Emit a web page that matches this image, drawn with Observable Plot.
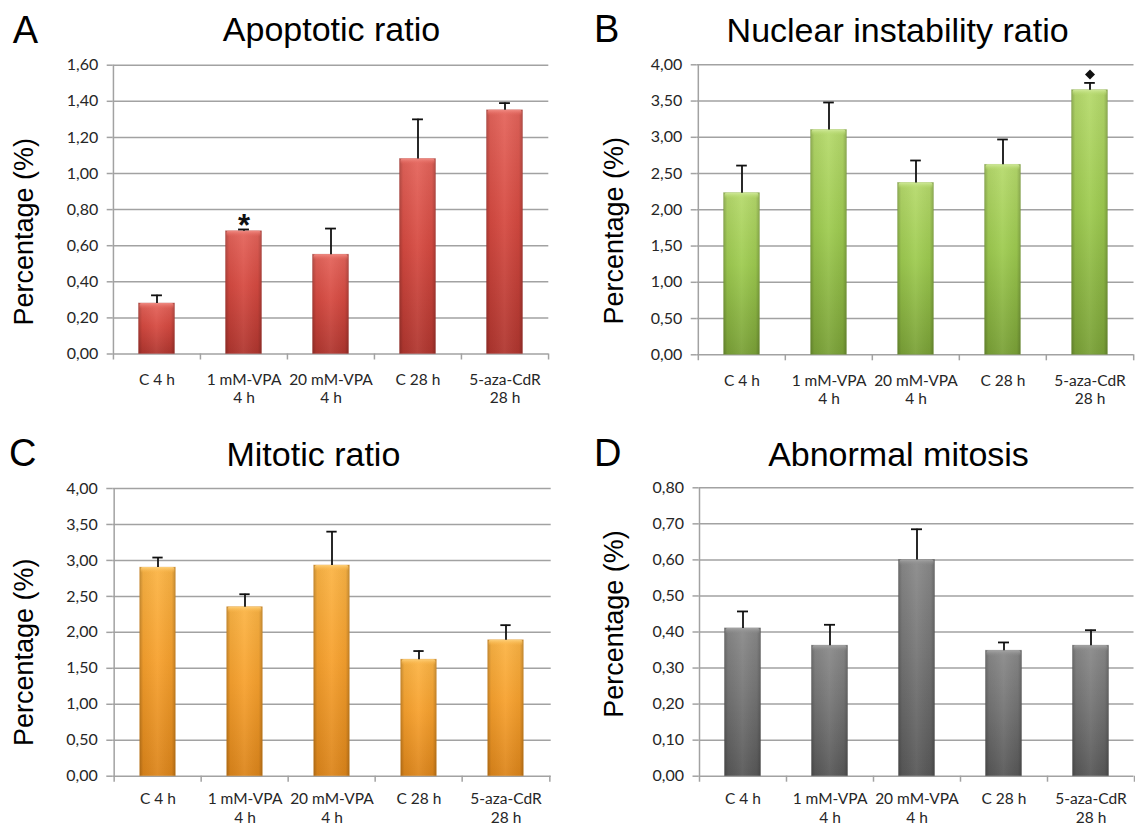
<!DOCTYPE html>
<html><head><meta charset="utf-8">
<script src="https://cdn.jsdelivr.net/npm/d3@7"></script>
<script src="https://cdn.jsdelivr.net/npm/@observablehq/plot@0.6"></script>
<style>
html,body{margin:0;padding:0;background:#fff;}
#wrap{position:relative;width:1135px;height:827px;overflow:hidden;background:#fff;}
#wrap svg{position:absolute;}
</style></head><body><div id="wrap"></div>
<script>
// ---------- data ----------
const categories = ["C 4 h", "1 mM-VPA\n4 h", "20 mM-VPA\n4 h", "C 28 h", "5-aza-CdR\n28 h"];

const apoptoticValues = [0.28, 0.68, 0.55, 1.08, 1.35];
const apoptoticErrors = [0.045, 0.01, 0.145, 0.22, 0.04];
const apoptoticMarks  = ["", "*", "", "", ""];
const apoptoticTicks  = [0, 0.2, 0.4, 0.6, 0.8, 1.0, 1.2, 1.4, 1.6];

const nuclearValues = [2.23, 3.10, 2.37, 2.62, 3.65];
const nuclearErrors = [0.38, 0.38, 0.31, 0.35, 0.10];
const nuclearMarks  = ["", "", "", "", "◆"];
const nuclearTicks  = [0, 0.5, 1.0, 1.5, 2.0, 2.5, 3.0, 3.5, 4.0];

const mitoticValues = [2.90, 2.35, 2.93, 1.62, 1.89];
const mitoticErrors = [0.14, 0.18, 0.47, 0.12, 0.21];
const mitoticMarks  = ["", "", "", "", ""];
const mitoticTicks  = [0, 0.5, 1.0, 1.5, 2.0, 2.5, 3.0, 3.5, 4.0];

const abnormalValues = [0.41, 0.362, 0.60, 0.348, 0.362];
const abnormalErrors = [0.047, 0.058, 0.085, 0.023, 0.043];
const abnormalMarks  = ["", "", "", "", ""];
const abnormalTicks  = [0, 0.1, 0.2, 0.3, 0.4, 0.5, 0.6, 0.7, 0.8];

const panelLetters = ["A", "B", "C", "D"];
const panelTitles = ["Apoptotic ratio", "Nuclear instability ratio", "Mitotic ratio", "Abnormal mitosis"];
const yTitle = "Percentage (%)";

// ---------- styles / layout ----------
const palettes = {
  A: {top: "#e4645b", base: "#d64a41", bottom: "#b0362f", strip: "#f08c84", edge: "#a0322b"},
  B: {top: "#b6da6c", base: "#9ecb50", bottom: "#7aa137", strip: "#d0e99a", edge: "#6f9430"},
  C: {top: "#fbb445", base: "#f7a12e", bottom: "#dc851b", strip: "#fdd07a", edge: "#c97a18"},
  D: {top: "#8a8a8a", base: "#757575", bottom: "#585858", strip: "#a6a6a6", edge: "#4e4e4e"}
};

const layouts = [
  {key: "A", left: 0,   top: 0,   width: 567, height: 414, ml: 112.7, mr: 18.7, mt: 64.7, mb: 60.5, labelDy: 17.5,
   values: apoptoticValues, errors: apoptoticErrors, marks: apoptoticMarks, ticks: apoptoticTicks,
   letter: {x: 12.7, y: 43}, title: {x: 331.5, y: 41}, ytitle: {x: 33, y: 231.7}},
  {key: "B", left: 567, top: 0,   width: 568, height: 414, ml: 129.7, mr: 1.5, mt: 64.3, mb: 59.7, labelDy: 17.5,
   values: nuclearValues, errors: nuclearErrors, marks: nuclearMarks, ticks: nuclearTicks,
   letter: {x: 594, y: 42}, title: {x: 897.6, y: 41.5}, ytitle: {x: 623, y: 230.8}},
  {key: "C", left: 0,   top: 414, width: 567, height: 413, ml: 112.3, mr: 16.3, mt: 74, mb: 51.3, labelDy: 15,
   values: mitoticValues, errors: mitoticErrors, marks: mitoticMarks, ticks: mitoticTicks,
   letter: {x: 9, y: 466}, title: {x: 313.4, y: 466}, ytitle: {x: 33, y: 652.3}},
  {key: "D", left: 567, top: 414, width: 568, height: 413, ml: 131.5, mr: 1.5, mt: 73.3, mb: 51.3, labelDy: 15,
   values: abnormalValues, errors: abnormalErrors, marks: abnormalMarks, ticks: abnormalTicks,
   letter: {x: 594, y: 466}, title: {x: 898.5, y: 466}, ytitle: {x: 623, y: 624}}
];

const gridColor = "#a2a2a2";
const fmt = d => d3.format(".2f")(d).replace(".", ",");
const wrap = document.getElementById("wrap");

function gradientDefs(id, col) {
  return () => {
    const defs = d3.create("svg:defs");
    const v = defs.append("linearGradient").attr("id", id + "-v")
      .attr("x1", 0).attr("y1", 0).attr("x2", 0).attr("y2", 1);
    [[0, col.top], [0.45, col.base], [1, col.bottom]].forEach(([o, c]) =>
      v.append("stop").attr("offset", o).attr("stop-color", c));
    const h = defs.append("linearGradient").attr("id", id + "-h")
      .attr("x1", 0).attr("y1", 0).attr("x2", 1).attr("y2", 0);
    [[0, "#000", 0.22], [0.1, "#000", 0.05], [0.5, "#fff", 0.06], [0.9, "#000", 0.05], [1, "#000", 0.22]].forEach(([o, c, a]) =>
      h.append("stop").attr("offset", o).attr("stop-color", c).attr("stop-opacity", a));
    const s = defs.append("linearGradient").attr("id", id + "-s")
      .attr("x1", 0).attr("y1", 0).attr("x2", 0).attr("y2", 1);
    [[0, col.strip, 1], [1, col.top, 0]].forEach(([o, c, a]) =>
      s.append("stop").attr("offset", o).attr("stop-color", c).attr("stop-opacity", a));
    return defs.node();
  };
}

layouts.forEach(L => {
  const col = palettes[L.key];
  const ymax = L.ticks[L.ticks.length - 1];
  const data = categories.map((c, i) => ({cat: c, v: L.values[i], top: L.values[i] + L.errors[i], mark: L.marks[i]}));
  const step = (L.width - L.ml - L.mr) / categories.length;
  const barInset = step * 0.293;
  const capInset = (step - 11) / 2;
  const chart = Plot.plot({
    width: L.width, height: L.height,
    marginLeft: L.ml, marginRight: L.mr, marginTop: L.mt, marginBottom: L.mb,
    style: {fontFamily: "Lato, 'Open Sans', sans-serif", fontSize: "16px", color: "#262626", background: "transparent", overflow: "visible"},
    x: {domain: categories, padding: 0, axis: null},
    y: {domain: [0, ymax], axis: null},
    marks: [
      gradientDefs("g" + L.key, col),
      Plot.gridY(L.ticks, {stroke: gridColor, strokeOpacity: 1, strokeWidth: 1.5}),
      Plot.axisY(L.ticks, {tickSize: 6, tickPadding: 9, stroke: gridColor, strokeWidth: 1.5, tickFormat: fmt, fill: "#262626", fontSize: 16, label: null}),
      Plot.ruleX([categories[0]], {x: d => d, y1: ymax, y2: 0, dx: -step / 2, insetBottom: -6, stroke: gridColor, strokeWidth: 1.5}),
      Plot.ruleX(categories.slice(1), {x: d => d, y1: 0, y2: 0, dx: -step / 2, insetBottom: -6, stroke: gridColor, strokeWidth: 1.5}),
      Plot.ruleX([categories[categories.length - 1]], {x: d => d, y1: 0, y2: 0, dx: step / 2, insetBottom: -6, stroke: gridColor, strokeWidth: 1.5}),
      Plot.barY(data, {x: "cat", y: "v", insetLeft: barInset, insetRight: barInset, fill: `url(#g${L.key}-v)`, stroke: col.edge, strokeOpacity: 0.35, strokeWidth: 0.8}),
      Plot.barY(data, {x: "cat", y: "v", insetLeft: barInset, insetRight: barInset, fill: `url(#g${L.key}-h)`}),
      Plot.barY(data, {x: "cat", y1: "v", y2: "v", insetBottom: -6, insetLeft: barInset + 1, insetRight: barInset + 1, rx: 2, fill: `url(#g${L.key}-s)`}),
      Plot.ruleX(data, {x: "cat", y1: "v", y2: "top", stroke: "#111", strokeWidth: 1.8}),
      Plot.tickY(data, {x: "cat", y: "top", insetLeft: capInset, insetRight: capInset, stroke: "#111", strokeWidth: 1.8}),
      Plot.text(data.filter(d => d.mark === "*"), {x: "cat", y: "top", text: "mark", dy: -3, fontSize: 31, fontWeight: "bold", fontFamily: "'Liberation Sans', Arial, sans-serif", fill: "#111"}),
      Plot.dot(data.filter(d => d.mark === "◆"), {x: "cat", y: "top", dy: -8.4, symbol: "diamond2", r: 4.5, fill: "#111", stroke: "none"}),
      Plot.text(categories, {x: d => d, text: d => d, frameAnchor: "bottom", lineAnchor: "top", dy: L.labelDy, lineHeight: 1.2, fontSize: 15.5, fill: "#262626"})
    ]
  });
  chart.style.left = L.left + "px";
  chart.style.top = L.top + "px";
  wrap.appendChild(chart);
});

// ---------- titles overlay ----------
const overlay = d3.select(wrap).append("svg")
  .attr("width", 1135).attr("height", 827)
  .style("left", "0px").style("top", "0px").style("pointer-events", "none")
  .style("font-family", "'Liberation Sans', Arial, Helvetica, sans-serif");

layouts.forEach((L, i) => {
  overlay.append("text").attr("x", L.letter.x).attr("y", L.letter.y)
    .attr("font-size", 38).attr("fill", "#000").text(panelLetters[i]);
  overlay.append("text").attr("x", L.title.x).attr("y", L.title.y)
    .attr("text-anchor", "middle").attr("font-size", 34).attr("fill", "#000").text(panelTitles[i]);
  overlay.append("text")
    .attr("transform", `translate(${L.ytitle.x},${L.ytitle.y}) rotate(-90)`)
    .attr("text-anchor", "middle").attr("font-size", 27).attr("fill", "#000").text(yTitle);
});
</script>
</body></html>
